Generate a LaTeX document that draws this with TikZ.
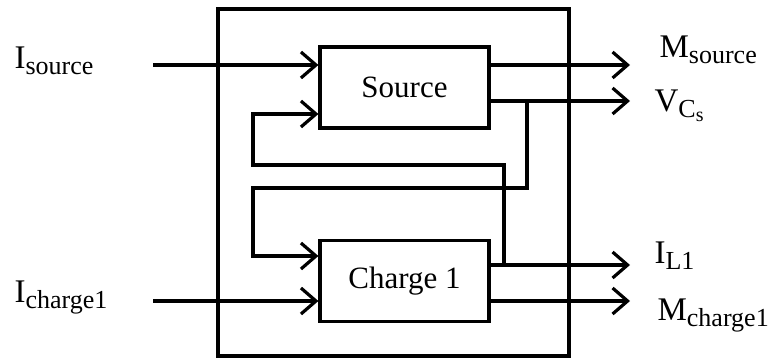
\documentclass[tikz,border=0pt]{standalone}
\usepackage{fontspec}
\setmainfont{Liberation Serif}
\usetikzlibrary{arrows.meta,calc,positioning}
\newcommand{\indice}[2]{#1\raisebox{-6pt}{\fontsize{26}{26}\selectfont #2}}

\begin{document}
\begin{tikzpicture}[x=1pt, y=-1pt, line width=3.2pt,
  every node/.style={font=\fontsize{33}{38}\selectfont},
  etiq/.style={anchor=base west, inner sep=0pt},
  bloc/.style={draw, minimum width=169pt, minimum height=81pt, inner sep=0pt, font=\fontsize{31}{36}\selectfont},
  flux/.style={-{Straight Barb[length=15pt,width=26pt]}}]
\useasboundingbox (0,0) rectangle (770,358);
\draw (218,9) rectangle (569,356);
\node[bloc] (src) at (404.5,87.5) {Source};
\node[bloc] (chg) at (404.5,281) {Charge 1};
% entrees
\coordinate (isrc) at (153,65);
\coordinate (ichg) at (153,301);
\node[etiq] (lisrc) at (13,69) {\indice{I}{source}};
\node[etiq] (lichg) at (13,302) {\indice{I}{charge1}};
\draw[flux] (isrc) -- (isrc -| src.west);
\draw[flux] (ichg) -- (ichg -| chg.west);
% sorties
\coordinate (msrc) at (630,65);
\coordinate (vcs) at (630,101);
\coordinate (il) at (630,265);
\coordinate (mchg) at (630,301);
\node[etiq] (lmsrc) at (658,58) {\indice{M}{source}};
\node[etiq] (lvcs) at (653,112) {V\raisebox{-6pt}{\fontsize{26}{26}\selectfont C\raisebox{-4pt}{\fontsize{20}{20}\selectfont s}}};
\node[etiq] (lil) at (653,263) {\indice{I}{L1}};
\node[etiq] (lmchg) at (656,320) {\indice{M}{charge1}};
\draw[flux] (src.east |- msrc) -- (msrc);
\draw[flux] (src.east |- vcs) -- (vcs);
\draw[flux] (chg.east |- il) -- (il);
\draw[flux] (chg.east |- mchg) -- (mchg);
% boucles
\draw[flux] (527,101) -- (527,188) -- (253,188) -- (253,256) -- (chg.west |- 0,256);
\draw[flux] (504,265) -- (504,165) -- (253,165) -- (253,114) -- (src.west |- 0,114);
\end{tikzpicture}
\end{document}
